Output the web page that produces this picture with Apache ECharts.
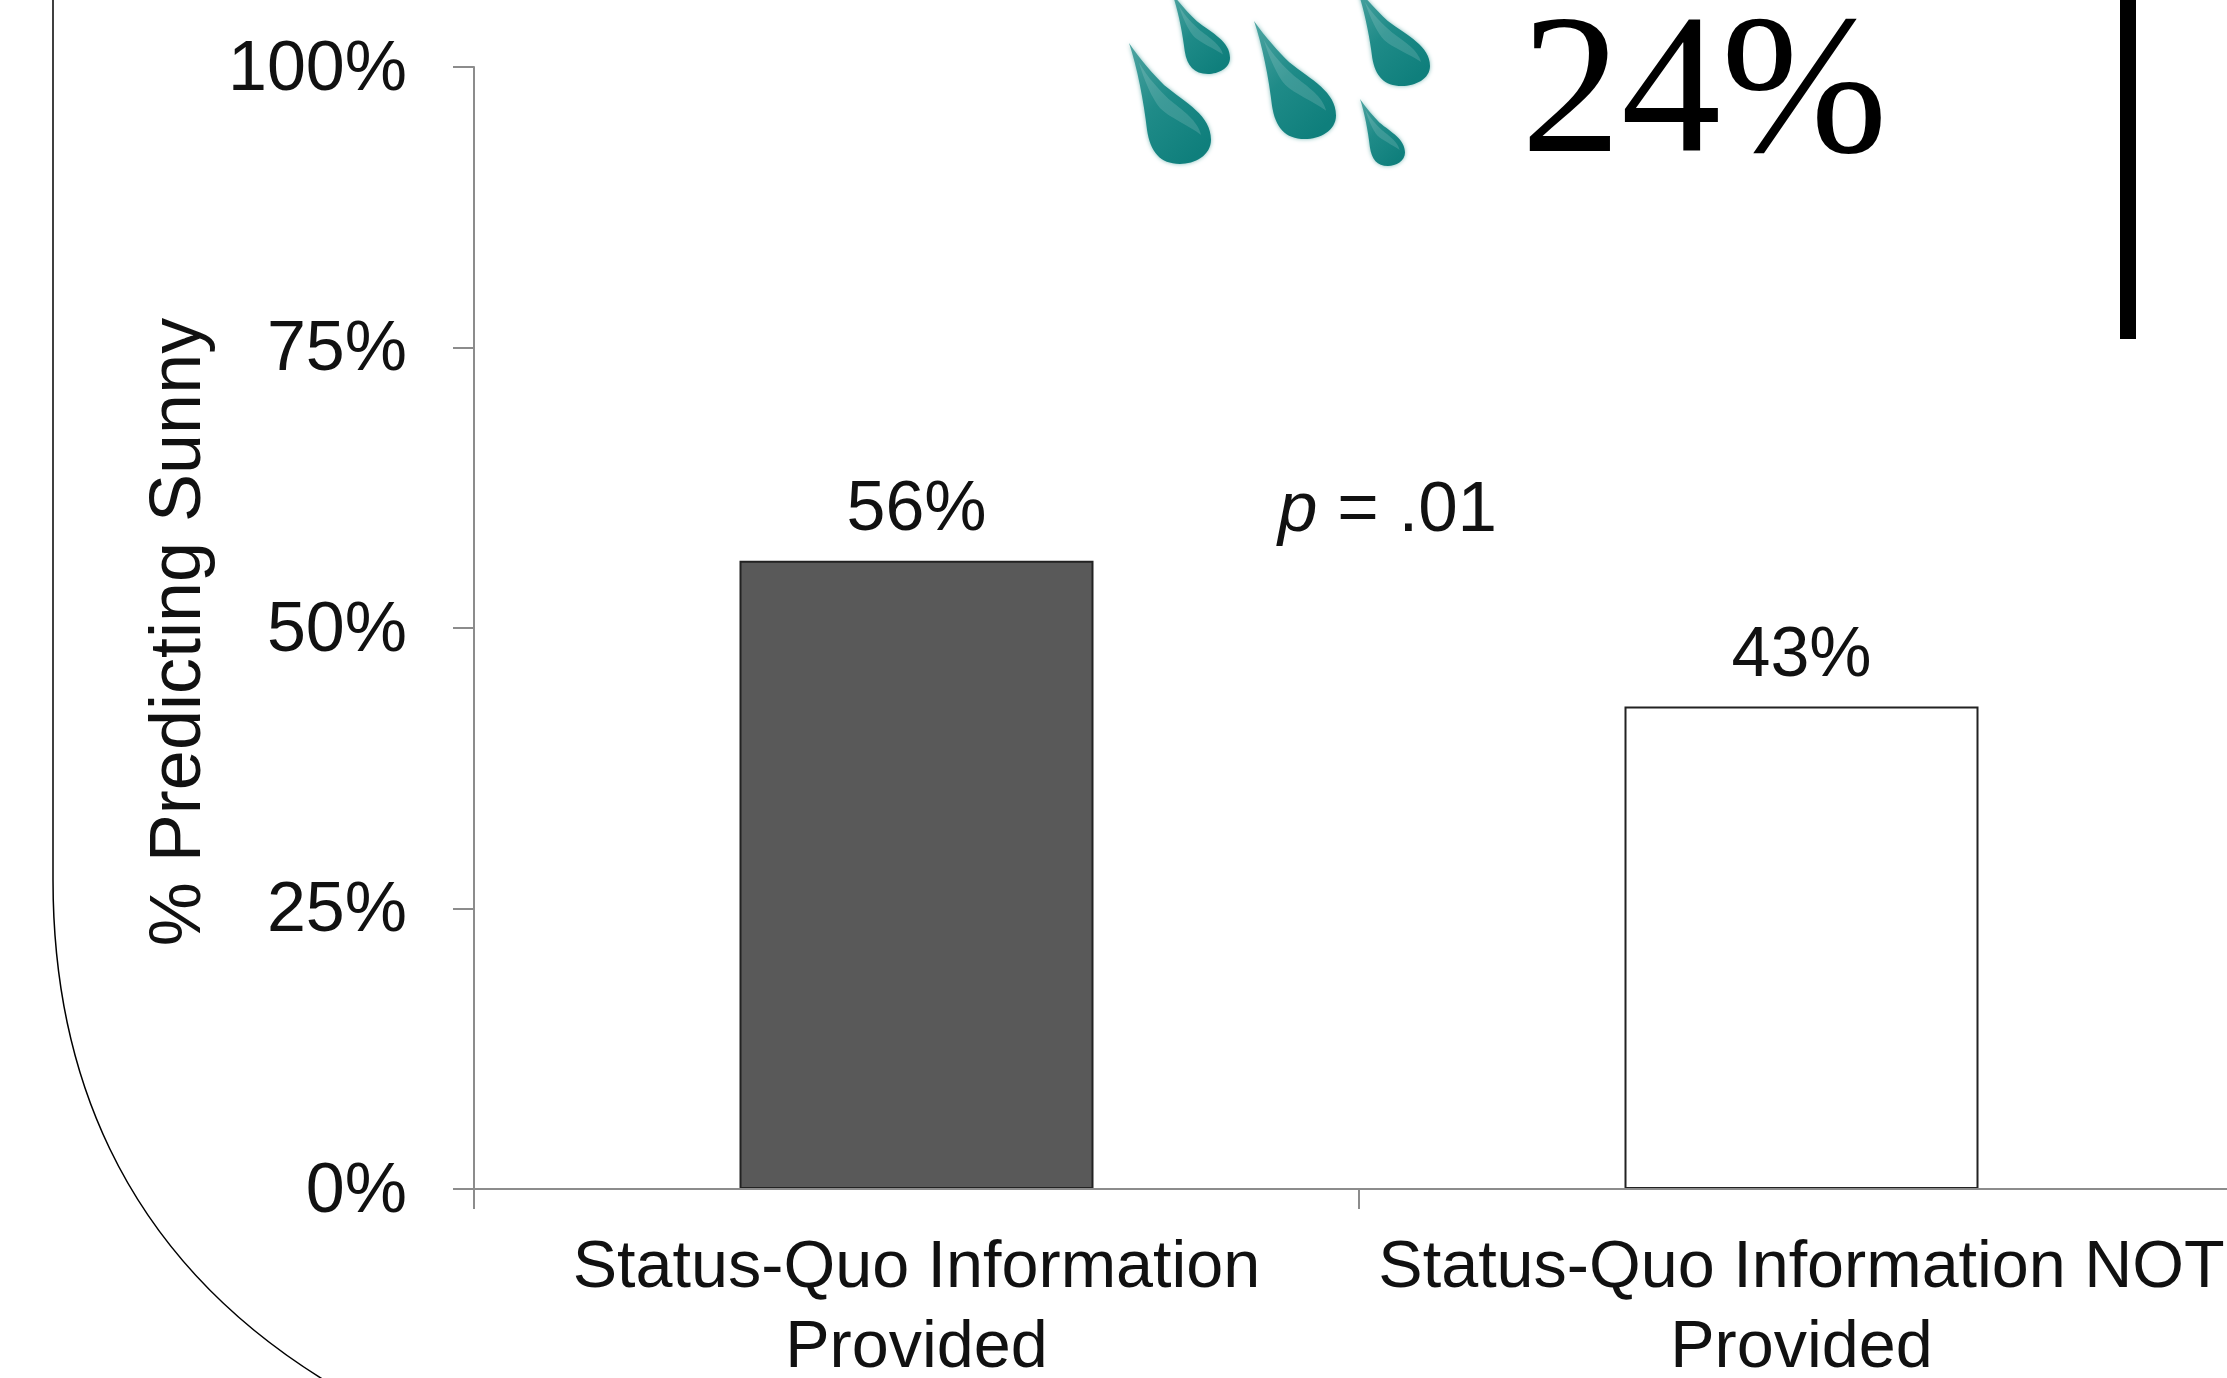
<!DOCTYPE html>
<html>
<head>
<meta charset="utf-8">
<style>html,body{margin:0;padding:0;background:#fff}#chart{width:2227px;height:1378px}</style>
<script src="https://cdn.jsdelivr.net/npm/echarts@6/dist/echarts.min.js"></script>
</head>
<body>
<div id="chart"></div>
<script>
// Share of participants predicting sunny weather, by information condition
const categories = ['Status-Quo Information\nProvided', 'Status-Quo Information NOT\nProvided'];
const percentSunny = [56, 43];
const barFills = ['#595959', '#ffffff'];
const yAxisTitle = '% Predicting Sunny';
const rainChance = '24%';
const pValue = ' = .01';

const sans = '"Liberation Sans", Arial, sans-serif';
const ink = '#111111';
const axisGrey = '#8c8c8c';

// Teardrop outline in a 100x100 box, tip at the top left; the sheen sits along its upper edge
const dropPath = 'M0 0 C14 14 30 26 43 35 C70 50 100 60 100 80 C100 93 80 100 62 100 C38 100 26 90 22 72 C18 48 10 20 0 0 Z';
const sheenPath = 'M12 16 C24 30 36 38 48 46 C66 56 84 64 88 76 C72 68 50 62 38 54 C28 46 18 30 12 16 Z';
echarts.graphic.registerShape('teardrop', echarts.graphic.extendPath(dropPath, {}));
echarts.graphic.registerShape('dropSheen', echarts.graphic.extendPath(sheenPath, {}));
const dropBoxes = [
  [1129, 43, 82, 121],
  [1254, 21, 82, 118],
  [1172, -7, 58, 81],
  [1356, -14, 74, 100],
  [1360, 99, 45, 67]
];
const dropFill = new echarts.graphic.LinearGradient(0, 0, 0.7, 1, [
  { offset: 0, color: '#4fa5a2' },
  { offset: 0.5, color: '#1f8b88' },
  { offset: 1, color: '#0f7f7c' }
]);

const graphic = [
  // Rounded panel edge on the left
  { type: 'line', z: 1, silent: true,
    shape: { x1: 53, y1: -2, x2: 53, y2: 880 },
    style: { stroke: '#000', lineWidth: 1.5 } },
  { type: 'bezierCurve', z: 1, silent: true,
    shape: { x1: 53, y1: 880, cpx1: 53, cpy1: 1060, cpx2: 114, cpy2: 1250, x2: 324, y2: 1380 },
    style: { fill: 'none', stroke: '#000', lineWidth: 1.5 } },
  // Heavy divider at the top right
  { type: 'rect', z: 1, silent: true,
    shape: { x: 2120, y: 0, width: 16, height: 339 },
    style: { fill: '#000' } },
  { type: 'text', z: 5, silent: true, left: 1521, top: -2,
    style: { text: rainChance, font: '200px "Liberation Serif", "Times New Roman", serif', fill: '#000' } },
  { type: 'text', z: 5, silent: true, left: 1278, top: 476,
    style: {
      text: '{i|p}{n|' + pValue + '}',
      rich: {
        i: { font: 'italic 71px ' + sans, fill: ink },
        n: { font: '71px ' + sans, fill: ink }
      }
    } }
].concat(dropBoxes.map(function (b) {
  return { type: 'teardrop', z: 3, silent: true,
    x: b[0], y: b[1], scaleX: b[2] / 100, scaleY: b[3] / 100,
    style: { fill: dropFill, shadowBlur: 4, shadowColor: 'rgba(18,131,127,0.55)' } };
})).concat(dropBoxes.map(function (b) {
  return { type: 'dropSheen', z: 4, silent: true,
    x: b[0], y: b[1], scaleX: b[2] / 100, scaleY: b[3] / 100,
    style: { fill: 'rgba(255,255,255,0.14)' } };
}));

const chart = echarts.init(document.getElementById('chart'), null, { renderer: 'canvas' });
chart.setOption({
  animation: false,
  backgroundColor: '#ffffff',
  textStyle: { fontFamily: sans },
  graphic: graphic,
  grid: { left: 474, top: 67, width: 1770, height: 1122, containLabel: false, outerBoundsMode: 'none' },
  xAxis: {
    type: 'category',
    z: 5,
    data: categories,
    axisTick: { show: true, length: 20, alignWithLabel: false, lineStyle: { color: axisGrey, width: 2 } },
    axisLine: { lineStyle: { color: axisGrey, width: 2 } },
    axisLabel: { interval: 0, fontSize: 66.5, color: ink, margin: 40, lineHeight: 80, fontFamily: sans }
  },
  yAxis: {
    type: 'value',
    min: 0,
    max: 100,
    interval: 25,
    name: yAxisTitle,
    nameLocation: 'middle',
    nameGap: 258,
    nameTextStyle: { fontSize: 72, color: ink, fontFamily: sans, padding: [0, 8, 0, 0] },
    splitLine: { show: false },
    axisTick: { show: true, length: 21, lineStyle: { color: axisGrey, width: 2 } },
    axisLine: { show: true, lineStyle: { color: axisGrey, width: 2 } },
    axisLabel: {
      formatter: '{t|{value}%}',
      margin: 67,
      rich: { t: { fontSize: 70, color: ink, fontFamily: sans, padding: [7, 0, 0, 0] } }
    }
  },
  series: [{
    type: 'bar',
    barWidth: '40%',
    data: percentSunny.map(function (v, i) {
      return { value: v, itemStyle: { color: barFills[i], borderColor: '#222222', borderWidth: 2 } };
    }),
    label: { show: true, position: 'top', distance: 15, formatter: '{c}%', fontSize: 70, color: ink, fontFamily: sans }
  }]
});
</script>
</body>
</html>
